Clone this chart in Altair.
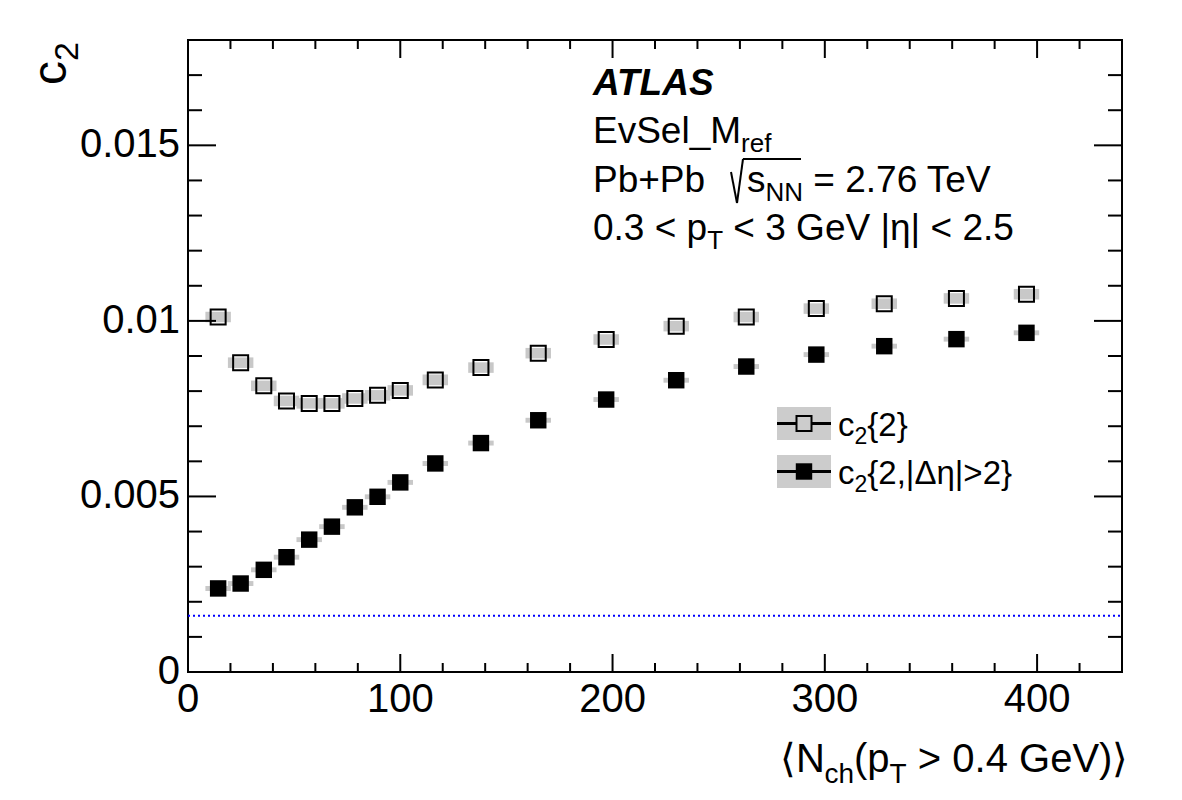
import altair as alt
import pandas as pd

# ---------------- data ----------------
nch = [14.2, 24.8, 35.7, 46.4, 57.1, 67.8, 78.6, 89.3, 100.0, 116.5,
       138.0, 165.0, 197.0, 230.0, 263.0, 296.0, 328.0, 362.0, 395.0]
c2_2 = [0.01011, 0.00881, 0.00815, 0.00772, 0.00765, 0.00765, 0.00779, 0.00788, 0.00802, 0.00832,
        0.00867, 0.00908, 0.00947, 0.00985, 0.01011, 0.01035, 0.01049, 0.01064, 0.01076]
c2_2_sys = [0.00015, 0.00015, 0.00015, 0.00015, 0.00015, 0.00015, 0.00015, 0.00015, 0.00015, 0.00015,
            0.00015, 0.00015, 0.00015, 0.00015, 0.00015, 0.00015, 0.00015, 0.00015, 0.00015]
c2_eta = [0.00238, 0.00252, 0.00291, 0.00327, 0.00377, 0.00414, 0.00469, 0.00499, 0.00540, 0.00594,
          0.00652, 0.00717, 0.00776, 0.00831, 0.00870, 0.00904, 0.00928, 0.00948, 0.00966]
c2_eta_sys = [0.00007, 0.00007, 0.00007, 0.00007, 0.00007, 0.00007, 0.00007, 0.00007, 0.00007, 0.00007,
              0.00007, 0.00007, 0.00007, 0.00007, 0.00007, 0.00007, 0.00007, 0.00007, 0.00007]
nch_sys_half = 6.0
reference_level = [0.0016]

x_major = [0, 100, 200, 300, 400]
x_minor = [20, 40, 60, 80, 120, 140, 160, 180, 220, 240, 260, 280, 320, 340, 360, 380, 420]
y_major = [0, 0.005, 0.01, 0.015]
y_minor = [0.001, 0.002, 0.003, 0.004, 0.006, 0.007, 0.008, 0.009,
           0.011, 0.012, 0.013, 0.014, 0.016, 0.017]
x_tick_labels = ["0", "100", "200", "300", "400"]
y_tick_labels = ["0", "0.005", "0.01", "0.015"]

# ---------------- layout ----------------
FONT = "Liberation Sans"
PL, PT, W, H = 188, 40, 934, 632
BAND = "#c8c8c8"

xs = alt.Scale(domain=[0, 440], nice=False, zero=False)
ys = alt.Scale(domain=[0, 0.018], nice=False, zero=False)

ARIAL = {' ': 278, '(': 333, ')': 333, '+': 584, ',': 278, '.': 278, '<': 584, '=': 584, '>': 584,
         '_': 556, '{': 334, '|': 260, '}': 334, 'E': 667, 'G': 778, 'M': 833, 'N': 722, 'P': 667,
         'S': 667, 'T': 611, 'V': 667, 'b': 556, 'c': 500, 'e': 556, 'f': 278, 'h': 556, 'l': 222,
         'p': 556, 'r': 333, 's': 500, 'v': 500, 'Δ': 668, 'η': 556, '⟨': 390, '⟩': 390}


def tw(t, size):
    return sum(ARIAL.get(ch, 556) for ch in t) / 1000.0 * size


one = pd.DataFrame({"a": [1]})


def txt(t, x, y, size, **kw):
    return alt.Chart(one).mark_text(align="left", baseline="alphabetic", font=FONT,
                                    fontSize=size, color="black", **kw).encode(
        x=alt.value(x - PL), y=alt.value(y - PT), text=alt.value(t))


def run(segs, x0, y0):
    out, x = [], x0
    for t, size, dy in segs:
        stripped = t.lstrip(" ")
        lead = tw(t[:len(t) - len(stripped)], size)
        out.append(txt(stripped, x + lead, y0 + dy, size))
        x += tw(t, size)
    return out


def seg_line(x1, y1, x2, y2, w=2):
    return alt.Chart(one).mark_rule(color="black", strokeWidth=w).encode(
        x=alt.value(x1 - PL), y=alt.value(y1 - PT), x2=alt.value(x2 - PL), y2=alt.value(y2 - PT))


df = pd.DataFrame({"nch": nch, "c2": c2_2, "sys": c2_2_sys, "c2e": c2_eta, "syse": c2_eta_sys})

band_open = alt.Chart(df).transform_calculate(
    xa=f"datum.nch - {nch_sys_half}", xb=f"datum.nch + {nch_sys_half}",
    ya="datum.c2 - datum.sys", yb="datum.c2 + datum.sys"
).mark_rect(color=BAND).encode(
    x=alt.X("xa:Q", scale=xs, axis=None), x2="xb:Q",
    y=alt.Y("ya:Q", scale=ys, axis=None), y2="yb:Q")

band_fill = alt.Chart(df).transform_calculate(
    xa=f"datum.nch - {nch_sys_half}", xb=f"datum.nch + {nch_sys_half}",
    ya="datum.c2e - datum.syse", yb="datum.c2e + datum.syse"
).mark_rect(color=BAND).encode(
    x=alt.X("xa:Q", scale=xs, axis=None), x2="xb:Q",
    y=alt.Y("ya:Q", scale=ys, axis=None), y2="yb:Q")

pts_open = alt.Chart(df).mark_point(shape="square", filled=False, size=225, strokeWidth=2,
                                    color="black", opacity=1).encode(
    x=alt.X("nch:Q", scale=xs, axis=None), y=alt.Y("c2:Q", scale=ys, axis=None))
pts_fill = alt.Chart(df).mark_square(size=270, color="black", opacity=1).encode(
    x=alt.X("nch:Q", scale=xs, axis=None), y=alt.Y("c2e:Q", scale=ys, axis=None))

ref_line = alt.Chart(pd.DataFrame({"v": reference_level})).mark_rule(
    color="#0000ff", strokeWidth=2, strokeDash=[2, 3]).encode(
    y=alt.Y("v:Q", scale=ys, axis=None), x=alt.value(0), x2=alt.value(W))

tick_layers = []
for vals, ln in ((y_major, 28), (y_minor, 14)):
    d = pd.DataFrame({"v": vals})
    tick_layers.append(alt.Chart(d).mark_rule(color="black", strokeWidth=2).encode(
        y=alt.Y("v:Q", scale=ys, axis=None), x=alt.value(0), x2=alt.value(ln)))
    tick_layers.append(alt.Chart(d).mark_rule(color="black", strokeWidth=2).encode(
        y=alt.Y("v:Q", scale=ys, axis=None), x=alt.value(W - ln), x2=alt.value(W)))
for vals, ln in ((x_major, 18), (x_minor, 9)):
    d = pd.DataFrame({"v": vals})
    tick_layers.append(alt.Chart(d).mark_rule(color="black", strokeWidth=2).encode(
        x=alt.X("v:Q", scale=xs, axis=None), y=alt.value(H), y2=alt.value(H - ln)))
    tick_layers.append(alt.Chart(d).mark_rule(color="black", strokeWidth=2).encode(
        x=alt.X("v:Q", scale=xs, axis=None), y=alt.value(0), y2=alt.value(ln)))

# tick labels, placed through the scales
y_labels = alt.Chart(pd.DataFrame({"v": y_major, "lab": y_tick_labels})).mark_text(
    align="right", baseline="middle", font=FONT, fontSize=40, color="black").encode(
    y=alt.Y("v:Q", scale=ys, axis=None), x=alt.value(-8), text="lab:N")
x_labels = alt.Chart(pd.DataFrame({"v": x_major, "lab": x_tick_labels})).mark_text(
    align="center", baseline="top", font=FONT, fontSize=40, color="black").encode(
    x=alt.X("v:Q", scale=xs, axis=None), y=alt.value(H + 8), text="lab:N")

# ---------------- annotations ----------------
S, SS = 37, 26
X0 = 593
ann = []
ann.append(txt("ATLAS", X0, 95, S, fontWeight="bold", fontStyle="italic"))
ann += run([("EvSel_M", S, 0), ("ref", SS, 9)], X0, 143)
ann += run([("Pb+Pb", S, 0)], X0, 192)
ann += [seg_line(731, 172, 737, 203), seg_line(737, 203, 743, 159), seg_line(743, 159, 801, 159)]
ann += run([("s", S, 0), ("NN", SS, 9), (" = 2.76 TeV", S, 0)], 747, 192)
ann += run([("0.3 < p", S, 0), ("T", SS, 9), (" < 3 GeV |η| < 2.5", S, 0)], X0, 240)

# legend
LS, LSS = 33, 23
leg = []
for cy, filled, label in ((423.5, False, "{2}"), (471.5, True, "{2,|Δη|>2}")):
    leg.append(alt.Chart(one).mark_rect(color="#cccccc").encode(
        x=alt.value(777 - PL), x2=alt.value(831 - PL), y=alt.value(cy - 16.5 - PT), y2=alt.value(cy + 16.5 - PT)))
    leg.append(seg_line(777, cy, 831, cy, 3))
    if filled:
        leg.append(alt.Chart(one).mark_square(size=270, color="black", opacity=1).encode(
            x=alt.value(804 - PL), y=alt.value(cy - PT)))
    else:
        leg.append(alt.Chart(one).mark_point(shape="square", filled=False, size=225, strokeWidth=2,
                                             color="black", fill="#cccccc", opacity=1).encode(
            x=alt.value(804 - PL), y=alt.value(cy - PT)))
    leg += run([("c", LS, 0), ("2", LSS, 8), (label, LS, 0)], 838, cy + 12)

# axis titles
titles = []
xt = [("⟨N", 40, 0), ("ch", 28, 11), ("(p", 40, 0), ("T", 28, 11), (" > 0.4 GeV)⟩", 40, 0)]
total = sum(tw(t, s) for t, s, _ in xt)
titles += run(xt, 1128 - total, 772)
titles.append(txt("c", 66, 85, 48, angle=270))
titles.append(txt("2", 78, 85 - tw("c", 48), 34, angle=270))

chart = alt.layer(
    band_open, band_fill, ref_line, *tick_layers, pts_open, pts_fill,
    y_labels, x_labels, *ann, *leg, *titles
).properties(
    width=W, height=H,
    padding={"left": PL, "top": PT, "right": 1182 - PL - W, "bottom": 800 - PT - H},
    autosize=alt.AutoSizeParams(type="none"),
).configure_view(stroke="black", strokeWidth=2)

chart.save("out.html", embed_options={"renderer": "svg", "actions": False})
